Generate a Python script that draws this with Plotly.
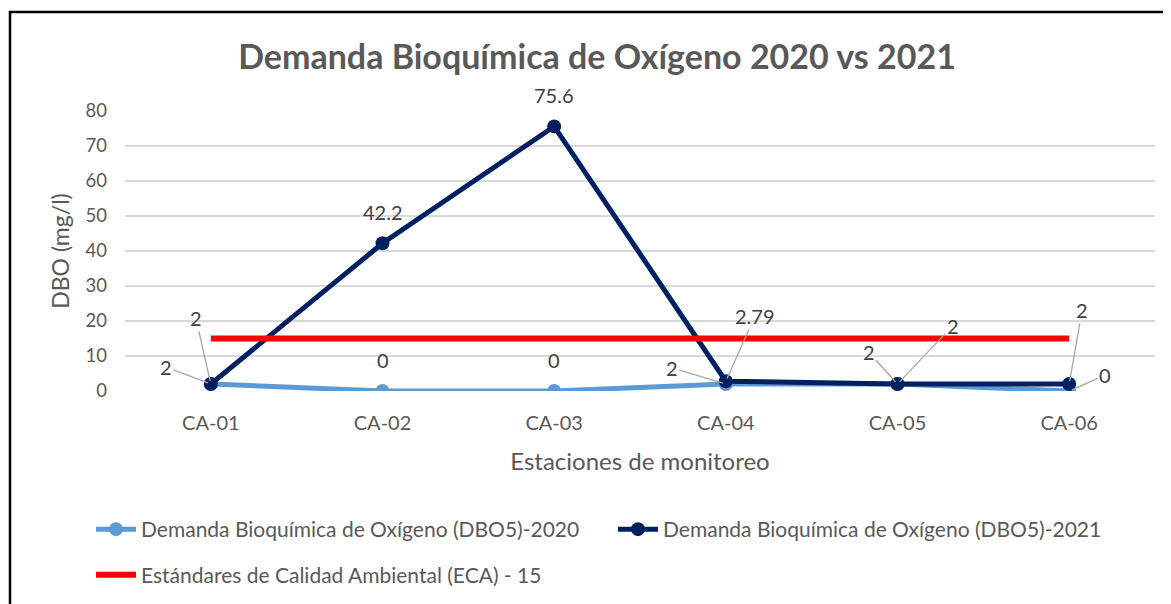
import plotly.graph_objects as go

stations = ["CA-01", "CA-02", "CA-03", "CA-04", "CA-05", "CA-06"]
dbo_2020 = [2, 0, 0, 2, 2, 0]
dbo_2021 = [2, 42.2, 75.6, 2.79, 2, 2]
eca = [15, 15, 15, 15, 15, 15]
y_ticks = [0, 10, 20, 30, 40, 50, 60, 70, 80]

name_2020 = "Demanda Bioquímica de Oxígeno (DBO5)-2020"
name_2021 = "Demanda Bioquímica de Oxígeno (DBO5)-2021"
name_eca = "Estándares de Calidad Ambiental (ECA) - 15"

FONT = "Lato"
GRAY = "#595959"
LBL = "#404040"

fig = go.Figure()
fig.add_trace(go.Scatter(x=stations, y=dbo_2020, name=name_2020, mode="lines+markers",
                         line=dict(color="#5B9BD5", width=5), marker=dict(size=14, color="#5B9BD5"),
                         legend="legend"))
fig.add_trace(go.Scatter(x=stations, y=dbo_2021, name=name_2021, mode="lines+markers",
                         line=dict(color="#002060", width=5), marker=dict(size=14, color="#002060"),
                         legend="legend"))
fig.add_trace(go.Scatter(x=stations, y=eca, name=name_eca, mode="lines",
                         line=dict(color="#FF0000", width=6), legend="legend2"))

# label offsets (style only): (ax, ay) in px; None => plain label above point
off_2020 = [(-45, -17), None, None, (-54, -16), (-29, -32), (36, -16)]
off_2021 = [(-15, -66), None, None, (29, -65), (55, -58), (13, -74)]

ann = []
for series, offs in ((dbo_2020, off_2020), (dbo_2021, off_2021)):
    for i, (st, v) in enumerate(zip(stations, series)):
        txt = f"{v:g}"
        o = offs[i]
        if o is None:
            ann.append(dict(x=st, y=v, text=txt, showarrow=False, yshift=31,
                            font=dict(family=FONT, size=20, color=LBL)))
        else:
            ann.append(dict(x=st, y=v, text=txt, showarrow=True, ax=o[0], ay=o[1],
                            arrowhead=0, arrowwidth=1.3, arrowcolor="#A6A6A6", standoff=3,
                            font=dict(family=FONT, size=20, color=LBL)))

W, H = 1163, 596
fig.update_layout(
    width=W, height=H,
    margin=dict(l=117, r=16, t=103, b=213, autoexpand=False),
    paper_bgcolor="white", plot_bgcolor="white",
    font=dict(family=FONT, color=GRAY),
    title=dict(text="<b>Demanda Bioquímica de Oxígeno 2020 vs 2021</b>", xref="container",
               x=589 / W, xanchor="center", yref="container",
               y=1 - 49 / H, yanchor="middle", font=dict(family=FONT, size=34, color=GRAY)),
    xaxis=dict(range=[-0.5, 5.5], showgrid=False, showline=False, zeroline=False, ticks="",
               ticklabelstandoff=18,
               tickfont=dict(family=FONT, size=20, color=GRAY),
               title=dict(text="Estaciones de monitoreo", font=dict(family=FONT, size=24, color=GRAY), standoff=20)),
    yaxis=dict(range=[0, 80], tickvals=y_ticks, showgrid=True, gridcolor="#D9D9D9", gridwidth=1.6,
               zeroline=False, showline=False, ticks="", ticklabelstandoff=17,
               tickfont=dict(family=FONT, size=18.5, color=GRAY),
               title=dict(text="DBO (mg/l)", font=dict(family=FONT, size=23, color=GRAY), standoff=9)),
    legend=dict(orientation="h", x=-0.033, xanchor="left", y=-0.4214, yanchor="top",
                font=dict(family=FONT, size=21, color=GRAY), entrywidth=467, itemwidth=40),
    legend2=dict(orientation="h", x=-0.033, xanchor="left", y=-0.5839, yanchor="top",
                 font=dict(family=FONT, size=21, color=GRAY), itemwidth=40),
    annotations=ann,
    shapes=[dict(type="rect", xref="paper", yref="paper",
                 x0=(10 - 125) / 1030, x1=(1185 - 125) / 1030,
                 y0=(391 - 640) / 280, y1=(391 - 12) / 280,
                 line=dict(color="black", width=2.5), fillcolor="rgba(0,0,0,0)", layer="below")],
    showlegend=True,
)
fig.write_html("out.html")
